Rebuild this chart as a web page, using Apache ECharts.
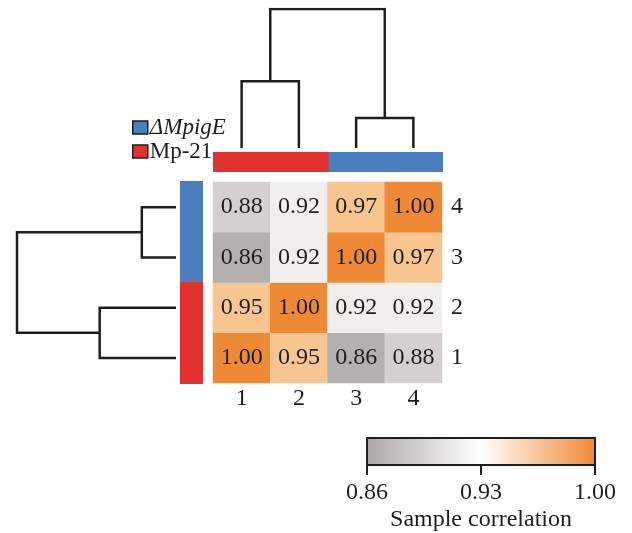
<!DOCTYPE html>
<html>
<head>
<meta charset="utf-8">
<script src="https://cdn.jsdelivr.net/npm/echarts@6/dist/echarts.min.js"></script>
<style>
  html, body { margin: 0; background: #fff; }
  #chart { width: 632px; height: 533px; }
</style>
</head>
<body>
<div id="chart"></div>
<script>
// samples, groups and correlation values
const samples = ['1', '2', '3', '4'];
const groups = ['ΔMpigE', 'Mp-21'];
const sampleGroup = ['Mp-21', 'Mp-21', 'ΔMpigE', 'ΔMpigE'];
const groupColors = { 'ΔMpigE': '#4a7ebf', 'Mp-21': '#e3322d' };
// rows from sample 1 (bottom) to sample 4 (top)
const corr = [
  [1.00, 0.95, 0.86, 0.88],
  [0.95, 1.00, 0.92, 0.92],
  [0.86, 0.92, 1.00, 0.97],
  [0.88, 0.92, 0.97, 1.00]
];
// dendrogram merges: [pos a, height a, pos b, height b, merge height]
const treeLinks = [
  [0.5, 0, 1.5, 0, 0.48],
  [2.5, 0, 3.5, 0, 0.215],
  [1.0, 0.48, 3.0, 0.215, 1.0]
];
// cell colour classes
const cellBreaks = [0.87, 0.90, 0.935, 0.99];
const cellColors = ['#b4b0af', '#d3d0cf', '#f1efee', '#f7c590', '#ee8a35'];
// colour scale
const scaleTicks = [0.86, 0.93, 1.00];
const scaleColors = ['#aaa6a5', '#ffffff', '#ee8a33'];

const font = 'Liberation Serif';
const ink = '#1e1e1e';
const fs = 24;

const chart = echarts.init(document.getElementById('chart'));

const heatData = [];
corr.forEach((row, y) => row.forEach((v, x) => heatData.push([x, y, v])));

const pieces = cellColors.map((c, i) => {
  const p = { color: c };
  if (i > 0) p.gte = cellBreaks[i - 1];
  if (i < cellBreaks.length) p.lt = cellBreaks[i];
  return p;
});

const topTree = treeLinks.map(l => ({
  coords: [[l[0], l[1]], [l[0], l[4]], [l[2], l[4]], [l[2], l[3]]]
}));
const sideTree = treeLinks.map(l => ({
  coords: [[l[1], l[0]], [l[4], l[0]], [l[4], l[2]], [l[3], l[2]]]
}));

const barSeries = [];
groups.forEach(g => {
  const d = samples.map((s, i) => sampleGroup[i] === g ? 1 : '-');
  const style = { color: groupColors[g] };
  barSeries.push({
    type: 'bar', name: g, stack: 'top', xAxisIndex: 3, yAxisIndex: 3,
    barWidth: '102%', data: d, itemStyle: style,
    emphasis: { disabled: true }
  });
  barSeries.push({
    type: 'bar', name: g, stack: 'side', xAxisIndex: 4, yAxisIndex: 4,
    barWidth: '102%', data: d, itemStyle: style,
    emphasis: { disabled: true }
  });
});

const hidden = { show: false };

const options = {
  backgroundColor: '#fff',
  animation: false,
  grid: [
    { left: 213, top: 182, width: 229, height: 201 },
    { left: 213, top: 9, width: 229, height: 139 },
    { left: 17, top: 182, width: 159, height: 201 },
    { left: 213, top: 152, width: 230, height: 20 },
    { left: 180, top: 181, width: 23, height: 203 },
    { left: 367, top: 438, width: 228, height: 30 }
  ],
  legend: {
    data: groups,
    orient: 'vertical',
    left: 127,
    top: 111,
    icon: 'rect',
    itemWidth: 15,
    itemHeight: 13,
    itemGap: 1,
    selectedMode: false,
    itemStyle: { borderColor: ink, borderWidth: 1.5 },
    formatter: name => name === 'ΔMpigE' ? '{i|' + name + '}' : name,
    textStyle: {
      fontFamily: font, fontSize: 23, color: ink, padding: [0, 0, 0, -3],
      rich: { i: { fontFamily: font, fontSize: 23, fontStyle: 'italic', color: ink } }
    }
  },
  visualMap: {
    type: 'piecewise',
    show: false,
    seriesIndex: 0,
    pieces: pieces
  },
  xAxis: [
    {
      gridIndex: 0, type: 'category', data: samples,
      axisLine: hidden, axisTick: hidden,
      axisLabel: { fontFamily: font, fontSize: fs, color: ink, margin: 4 }
    },
    { gridIndex: 1, type: 'value', min: 0, max: 4, show: false },
    { gridIndex: 2, type: 'value', min: 0, max: 1, inverse: true, show: false },
    { gridIndex: 3, type: 'category', data: samples, show: false },
    { gridIndex: 4, type: 'value', min: 0, max: 1, show: false },
    {
      gridIndex: 5, type: 'value', min: 0.86, max: 1.00,
      axisLine: hidden, splitLine: hidden,
      axisTick: { show: true, customValues: scaleTicks, length: 10, lineStyle: { color: ink, width: 2 } },
      axisLabel: {
        customValues: scaleTicks, formatter: v => v.toFixed(2),
        fontFamily: font, fontSize: fs, color: ink, margin: 16,
        showMinLabel: true, showMaxLabel: true
      },
      name: 'Sample correlation', nameLocation: 'middle', nameGap: 43,
      nameTextStyle: { fontFamily: font, fontSize: fs, color: ink }
    }
  ],
  yAxis: [
    {
      gridIndex: 0, type: 'category', data: samples, position: 'right',
      axisLine: hidden, axisTick: hidden,
      axisLabel: { fontFamily: font, fontSize: fs, color: ink, margin: 9 }
    },
    { gridIndex: 1, type: 'value', min: 0, max: 1, show: false },
    { gridIndex: 2, type: 'value', min: 0, max: 4, show: false },
    { gridIndex: 3, type: 'value', min: 0, max: 1, show: false },
    { gridIndex: 4, type: 'category', data: samples, show: false },
    { gridIndex: 5, type: 'value', min: 0, max: 1, show: false }
  ],
  series: [
    {
      type: 'heatmap', xAxisIndex: 0, yAxisIndex: 0, data: heatData,
      label: {
        show: true, formatter: p => p.value[2].toFixed(2),
        fontFamily: font, fontSize: fs, color: ink
      },
      emphasis: { disabled: true }
    },
    {
      type: 'lines', coordinateSystem: 'cartesian2d', xAxisIndex: 1, yAxisIndex: 1,
      polyline: true, data: topTree, lineStyle: { color: ink, width: 2.5, opacity: 1 }
    },
    {
      type: 'lines', coordinateSystem: 'cartesian2d', xAxisIndex: 2, yAxisIndex: 2,
      polyline: true, data: sideTree, lineStyle: { color: ink, width: 2.5, opacity: 1 }
    },
    ...barSeries,
    {
      type: 'custom', xAxisIndex: 5, yAxisIndex: 5,
      data: [[scaleTicks[0], scaleTicks[scaleTicks.length - 1]]],
      renderItem: (params, api) => {
        const p0 = api.coord([api.value(0), 0]);
        const p1 = api.coord([api.value(1), 1]);
        return {
          type: 'rect',
          shape: { x: p0[0], y: p1[1], width: p1[0] - p0[0], height: p0[1] - p1[1] },
          style: {
            fill: new echarts.graphic.LinearGradient(0, 0, 1, 0,
              scaleColors.map((c, i) => ({ offset: i / (scaleColors.length - 1), color: c }))),
            stroke: ink, lineWidth: 2
          }
        };
      }
    }
  ]
};
chart.setOption(options);
</script>
</body>
</html>
